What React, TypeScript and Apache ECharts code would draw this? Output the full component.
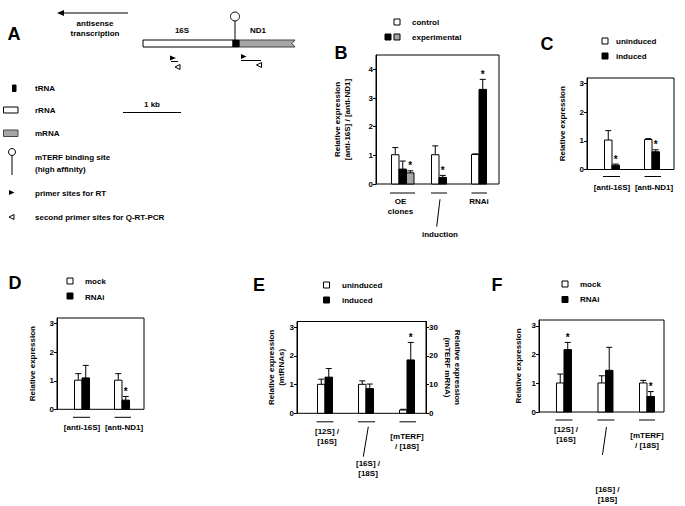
import React, { useEffect, useRef } from "react";
import * as echarts from "echarts";

const FONT = "'Liberation Sans', Arial, sans-serif";
const GREY = "#a6a6a6";

// ---------- Panel B ----------
const bCategories = ["OE\nclones", "induction", "RNAi"];
const bControl = [1.02, 1.02, 1.03];
const bControlErr = [1.27, 1.33, 1.05];
const bExperimental = [0.52, 0.23, 3.3];
const bExperimentalErr = [0.8, 0.3, 3.65];
const bExperimentalStar = [0, 1, 1];
const bExperimental2 = [0.39, null, null];
const bExperimental2Err = [0.46, null, null];
const bExperimental2Star = [1, 0, 0];
const bTicks = [0, 1, 2, 3, 4];

// ---------- Panel C ----------
const cCategories = ["[anti-16S]", "[anti-ND1]"];
const cUninduced = [1.03, 1.05];
const cUninducedErr = [1.36, 1.08];
const cInduced = [0.15, 0.62];
const cInducedErr = [0.19, 0.69];
const cInducedStar = [1, 1];
const cTicks = [0, 1, 2, 3];

// ---------- Panel D ----------
const dCategories = ["[anti-16S]", "[anti-ND1]"];
const dMock = [1.02, 1.02];
const dMockErr = [1.25, 1.25];
const dRNAi = [1.1, 0.32];
const dRNAiErr = [1.54, 0.45];
const dRNAiStar = [0, 1];
const dTicks = [0, 1, 2, 3];

// ---------- Panel E ----------
const eCategories = ["[12S] /\n[16S]", "[16S] /\n[18S]", "[mTERF]\n/ [18S]"];
// first two on left axis (mtRNAs), last on right axis (mTERF mRNA)
const eUninduced = [1.01, 1.01, 1.15];
const eUninducedErr = [1.19, 1.13, 1.4];
const eInduced = [1.26, 0.86, 18.6];
const eInducedErr = [1.56, 1.02, 24.7];
const eInducedStar = [0, 0, 1];
const eTicksLeft = [0, 1, 2, 3];
const eTicksRight = [0, 10, 20, 30];

// ---------- Panel F ----------
const fCategories = ["[12S] /\n[16S]", "[16S] /\n[18S]", "[mTERF]\n/ [18S]"];
const fMock = [1.01, 1.01, 1.01];
const fMockErr = [1.32, 1.26, 1.1];
const fRNAi = [2.17, 1.45, 0.54];
const fRNAiErr = [2.42, 2.25, 0.71];
const fRNAiStar = [1, 0, 1];
const fTicks = [0, 1, 2, 3];

const txt = (text: string, x: number, y: number, extra: any = {}) => ({
  type: "text",
  x,
  y,
  silent: true,
  style: {
    text,
    fill: "#000",
    fontSize: 8,
    fontWeight: "bold",
    fontFamily: FONT,
    align: "left",
    verticalAlign: "middle",
    textAlign: extra.align || "left",
    textVerticalAlign: extra.verticalAlign || "middle",
    ...extra,
  },
});
const rect = (x: number, y: number, w: number, h: number, fill: string, stroke = "#000") => ({
  type: "rect",
  silent: true,
  shape: { x, y, width: w, height: h },
  style: { fill, stroke, lineWidth: 1 },
});
const line = (x1: number, y1: number, x2: number, y2: number, lw = 1) => ({
  type: "line",
  silent: true,
  shape: { x1, y1, x2, y2 },
  style: { stroke: "#000", lineWidth: lw },
});
const poly = (points: number[][], fill: string, stroke: string | null = null) => ({
  type: "polygon",
  silent: true,
  shape: { points },
  style: { fill, stroke: stroke || "none", lineWidth: 1 },
});
const circ = (cx: number, cy: number, r: number) => ({
  type: "circle",
  silent: true,
  shape: { cx, cy, r },
  style: { fill: "#fff", stroke: "#000", lineWidth: 1 },
});
const letter = (t: string, x: number, y: number) =>
  txt(t, x, y, { fontSize: 18, align: "center", textAlign: "center" });

function bars(
  xi: number,
  yi: number,
  values: (number | null)[],
  errs: (number | null)[],
  stars: number[] | null,
  fill: string,
  slot: number,
  idxFilter: number[] | null = null,
  barW = 7.5
) {
  const data: number[][] = [];
  values.forEach((v, i) => {
    if (v == null) return;
    if (idxFilter && idxFilter.indexOf(i) < 0) return;
    data.push([i, v, (errs[i] as number) ?? v, stars ? stars[i] : 0]);
  });
  return {
    type: "custom",
    xAxisIndex: xi,
    yAxisIndex: yi,
    silent: true,
    clip: false,
    z: 3,
    data,
    encode: { x: 0, y: 1 },
    renderItem: (params: any, api: any) => {
      const i = api.value(0);
      const v = api.value(1);
      const e = api.value(2);
      const s = api.value(3);
      const base = api.coord([i, 0]);
      const top = api.coord([i, v]);
      const et = api.coord([i, e]);
      const x0 = base[0] + slot * barW;
      const cx = x0 + barW / 2;
      const ch: any[] = [
        { type: "line", shape: { x1: cx, y1: top[1], x2: cx, y2: et[1] }, style: { stroke: "#000", lineWidth: 1 } },
        { type: "line", shape: { x1: cx - 3, y1: et[1], x2: cx + 3, y2: et[1] }, style: { stroke: "#000", lineWidth: 1 } },
        {
          type: "rect",
          shape: { x: x0, y: top[1], width: barW, height: base[1] - top[1] },
          style: { fill, stroke: "#000", lineWidth: 1 },
        },
      ];
      if (s) {
        ch.push({
          type: "text",
          x: cx,
          y: et[1] - 5,
          style: {
            text: "*",
            fill: "#000",
            fontSize: 10,
            fontWeight: "bold",
            fontFamily: FONT,
            align: "center",
            verticalAlign: "middle",
            textAlign: "center",
            textVerticalAlign: "middle",
          },
        });
      }
      return { type: "group", children: ch };
    },
  };
}

function catLabels(xi: number, yi: number, cats: string[], cfg: any) {
  return {
    type: "custom",
    xAxisIndex: xi,
    yAxisIndex: yi,
    silent: true,
    clip: false,
    data: cats.map((_, i) => [i, 0]),
    encode: { x: 0, y: 1 },
    renderItem: (params: any, api: any) => {
      const i = api.value(0);
      const p = api.coord([i, 0]);
      const k = params.dataIndex;
      const span = cfg.spans[k] || [-8.5, 8.5];
      const uy = p[1] + cfg.underline;
      const ch: any[] = [
        { type: "line", shape: { x1: p[0] + span[0], y1: uy, x2: p[0] + span[1], y2: uy }, style: { stroke: "#000", lineWidth: 1 } },
        {
          type: "text",
          x: p[0] + cfg.dx[k],
          y: p[1] + cfg.dy[k],
          style: {
            text: cats[k],
            fill: "#000",
            fontSize: 8,
            fontWeight: "bold",
            fontFamily: FONT,
            lineHeight: 10,
            align: "center",
            verticalAlign: "top",
            textAlign: "center",
            textVerticalAlign: "top",
          },
        },
      ];
      const ld = cfg.leaders[k];
      if (ld) {
        ch.push({
          type: "line",
          shape: { x1: p[0] + ld[0], y1: p[1] + ld[1], x2: p[0] + ld[2], y2: p[1] + ld[3] },
          style: { stroke: "#000", lineWidth: 1 },
        });
      }
      return { type: "group", children: ch };
    },
  };
}

function yAx(gridIndex: number, max: number, ticks: number[], name: string, nameGap: number, position = "left", nameRotate?: number) {
  return {
    type: "value",
    gridIndex,
    position,
    min: 0,
    max,
    axisLine: { show: true, onZero: false, lineStyle: { color: "#000", width: 1 } },
    axisTick: { show: true, length: 3, lineStyle: { color: "#000", width: 1 }, customValues: ticks },
    axisLabel: {
      show: true,
      customValues: ticks,
      color: "#000",
      fontSize: 8,
      fontWeight: "bold",
      fontFamily: FONT,
      margin: 3,
    },
    splitLine: { show: false },
    name,
    nameLocation: "middle",
    nameGap,
    nameRotate,
    nameMoveOverlap: false,
    nameTextStyle: { color: "#000", fontSize: 8, fontWeight: "bold", fontFamily: FONT, lineHeight: 10 },
  };
}

function xAx(gridIndex: number, min: number, max: number) {
  return { type: "value", gridIndex, min, max, show: false };
}

function grid(left: number, top: number, width: number, height: number) {
  return {
    left,
    top,
    width,
    height,
    show: true,
    borderColor: "#000",
    borderWidth: 1,
    backgroundColor: "transparent",
    containLabel: false,
    outerBoundsMode: "none",
  };
}

function buildOption() {
  const graphics: any[] = [
    // ----- Panel A -----
    letter("A", 14, 34),
    line(128, 13, 63, 13),
    poly([[57, 13], [64, 10], [64, 16]], "#000"),
    txt("antisense", 95, 23, { align: "center", textAlign: "center" }),
    txt("transcription", 95, 33, { align: "center", textAlign: "center" }),
    txt("16S", 182, 30, { align: "center", textAlign: "center" }),
    txt("ND1", 258, 30, { align: "center", textAlign: "center" }),
    rect(143, 40, 90, 7, "#fff"),
    poly([[239, 40], [295, 40], [292, 43.5], [295, 47], [239, 47]], GREY, "#444"),
    rect(233, 40, 6, 7, "#000"),
    line(235, 21, 235, 40),
    circ(235, 16.5, 4.5),
    poly([[170, 55.5], [176, 58], [170, 60.5]], "#000"),
    line(171, 61.5, 178, 61.5),
    poly([[175, 67], [180, 64.5], [180, 69.5]], "#fff", "#000"),
    poly([[241, 54], [246.5, 56.5], [241, 59]], "#000"),
    line(241, 60.5, 261, 60.5),
    poly([[256.5, 65], [261.5, 62.5], [261.5, 67.5]], "#fff", "#000"),
    // legend A
    rect(12.5, 85, 3.5, 6.5, "#000"),
    txt("tRNA", 35, 88.5),
    rect(3.5, 107, 14.5, 6, "#fff"),
    txt("rRNA", 35, 110),
    rect(3.5, 130, 14.5, 6.5, GREY, "#444"),
    txt("mRNA", 35, 133.5),
    line(12, 155.5, 12, 175),
    circ(12, 152, 3.5),
    txt("mTERF binding site", 35, 157.5),
    txt("(high affinity)", 35, 169.5),
    poly([[9, 190], [14.5, 192.5], [9, 195]], "#000"),
    txt("primer sites for RT", 35, 193),
    poly([[9, 217], [14, 214.5], [14, 219.5]], "#fff", "#000"),
    txt("second primer sites for Q-RT-PCR", 35, 217),
    txt("1 kb", 152, 104, { align: "center", textAlign: "center" }),
    line(123, 112.5, 181, 112.5),

    // ----- Panel letters & legends -----
    letter("B", 341, 53),
    rect(394, 19, 6, 6, "#fff"),
    txt("control", 412, 22),
    rect(385, 34, 6, 6, "#000"),
    rect(394, 34, 6, 6, GREY),
    txt("experimental", 412, 37.5),

    letter("C", 547, 44),
    rect(602, 38, 6, 6, "#fff"),
    txt("uninduced", 616, 41),
    rect(602, 53, 6, 6, "#000"),
    txt("induced", 616, 56.5),

    letter("D", 15, 283),
    rect(67, 278, 6, 6, "#fff"),
    txt("mock", 85, 281.5),
    rect(67, 293, 6, 6, "#000"),
    txt("RNAi", 85, 297),

    letter("E", 259, 285),
    rect(323.5, 282, 6, 6, "#fff"),
    txt("uninduced", 342, 285),
    rect(323.5, 297, 6, 6, "#000"),
    txt("induced", 342, 300.5),

    letter("F", 497, 285),
    rect(562, 281, 6, 6, "#fff"),
    txt("mock", 580, 284),
    rect(562, 296.5, 6, 6, "#000"),
    txt("RNAi", 580, 299.5),
  ];

  const grids = [
    grid(376, 55, 123, 129), // B
    grid(587, 78, 87, 91.5), // C
    grid(57, 318, 87, 91.3), // D
    grid(297, 321.5, 129, 91.8), // E
    grid(539, 320, 125, 92), // F
  ];

  const xAxis = [
    xAx(0, -0.575, 2.5),
    xAx(1, -0.625, 1.55),
    xAx(2, -0.625, 1.55),
    xAx(3, -0.683, 2.463),
    xAx(4, -0.602, 2.41),
  ];

  const yAxis = [
    yAx(0, 4.5, bTicks, "Relative expression\n[anti-16S] / [anti-ND1]", 24),
    yAx(1, 3.2, cTicks, "Relative expression", 20),
    yAx(2, 3.2, dTicks, "Relative expression", 20),
    yAx(3, 3.2, eTicksLeft, "Relative expression\n(mtRNAs)", 11),
    yAx(4, 3.2, fTicks, "Relative expression", 16),
    yAx(3, 32, eTicksRight, "Relative expression\n(mTERF mRNA)", 16, "right", -90),
  ];

  const series: any[] = [
    // B
    bars(0, 0, bControl, bControlErr, null, "#fff", -1),
    bars(0, 0, bExperimental, bExperimentalErr, bExperimentalStar, "#000", 0),
    bars(0, 0, bExperimental2, bExperimental2Err, bExperimental2Star, GREY, 1),
    catLabels(0, 0, bCategories, {
      underline: 9,
      spans: [[-9, 16], [-8, 8], [-7.5, 8]],
      dx: [1.5, 1, 0],
      dy: [12, 45, 12],
      leaders: [null, [1, 15.3, -2.3, 42.7], null],
    }),
    // C
    bars(1, 1, cUninduced, cUninducedErr, null, "#fff", -1),
    bars(1, 1, cInduced, cInducedErr, cInducedStar, "#000", 0),
    catLabels(1, 1, cCategories, {
      underline: 7,
      spans: [[-9, 8], [-7.5, 9]],
      dx: [0, 2],
      dy: [12.5, 12.5],
      leaders: [null, null],
    }),
    // D
    bars(2, 2, dMock, dMockErr, null, "#fff", -1),
    bars(2, 2, dRNAi, dRNAiErr, dRNAiStar, "#000", 0),
    catLabels(2, 2, dCategories, {
      underline: 8,
      spans: [[-9, 8], [-7.5, 9]],
      dx: [0, 2],
      dy: [13, 13],
      leaders: [null, null],
    }),
    // E (mtRNAs on left axis, mTERF mRNA on right axis)
    bars(3, 3, eUninduced, eUninducedErr, null, "#fff", -1, [0, 1]),
    bars(3, 3, eInduced, eInducedErr, eInducedStar, "#000", 0, [0, 1]),
    bars(3, 5, eUninduced, eUninducedErr, null, "#fff", -1, [2]),
    bars(3, 5, eInduced, eInducedErr, eInducedStar, "#000", 0, [2]),
    catLabels(3, 3, eCategories, {
      underline: 8.5,
      spans: [[-8.5, 8.5], [-8, 9], [-7.5, 9]],
      dx: [2, 2, 0],
      dy: [13.4, 45, 18.4],
      leaders: [null, [2.3, 13.4, -2.7, 43.4], null],
    }),
    // F
    bars(4, 4, fMock, fMockErr, null, "#fff", -1),
    bars(4, 4, fRNAi, fRNAiErr, fRNAiStar, "#000", 0),
    catLabels(4, 4, fCategories, {
      underline: 8,
      spans: [[-8.5, 8.5], [-8, 9], [-8, 8]],
      dx: [2, 2, 0],
      dy: [12, 72, 18],
      leaders: [null, [1, 15, -3, 43], null],
    }),
  ];

  return {
    animation: false,
    backgroundColor: "#fff",
    textStyle: { fontFamily: FONT },
    grid: grids,
    xAxis,
    yAxis,
    series,
    graphic: { elements: graphics },
  };
}

export default function App() {
  const ref = useRef<HTMLDivElement | null>(null);
  useEffect(() => {
    if (!ref.current) return;
    const chart = echarts.init(ref.current, null, { renderer: "svg", width: 685, height: 506 });
    chart.setOption(buildOption() as any);
    return () => chart.dispose();
  }, []);
  return (
    <div
      ref={ref}
      style={{ position: "absolute", left: 0, top: 0, width: 685, height: 506, background: "#fff" }}
    />
  );
}
